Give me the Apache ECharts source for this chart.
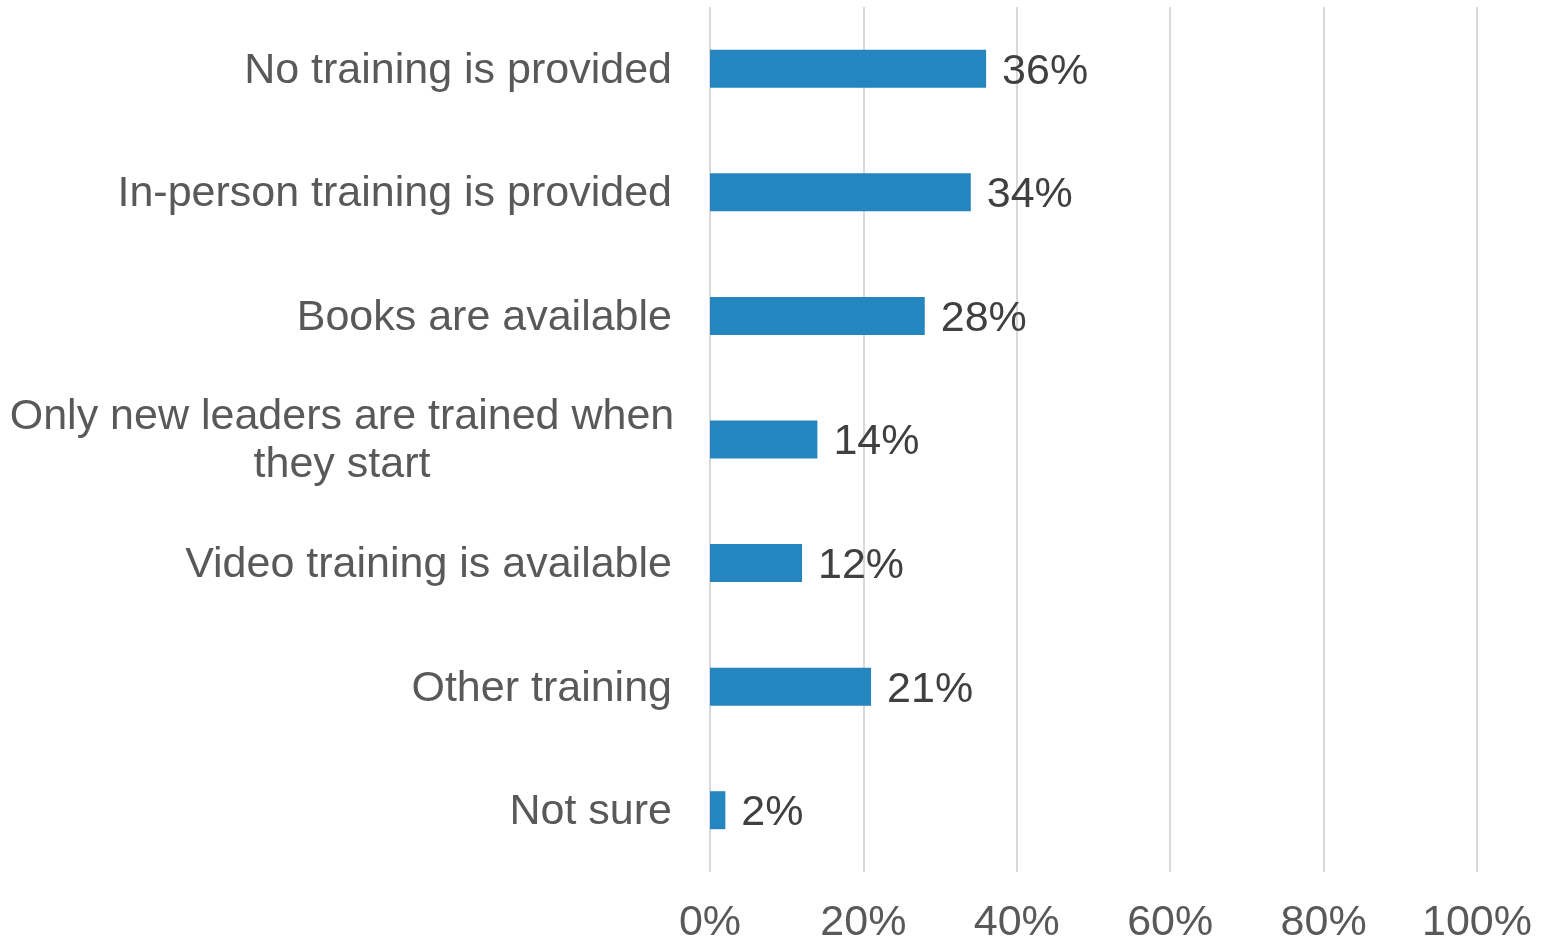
<!DOCTYPE html>
<html>
<head>
<meta charset="utf-8">
<script src="https://cdn.jsdelivr.net/npm/echarts@6/dist/echarts.min.js"></script>
<style>
  html, body { margin: 0; padding: 0; background: #fff; }
  #main { width: 1543px; height: 941px; }
</style>
</head>
<body>
<div id="main"></div>
<script>
// categories, top to bottom
const categories = [
  'No training is provided',
  'In-person training is provided',
  'Books are available',
  'Only new leaders are trained when\nthey start',
  'Video training is available',
  'Other training',
  'Not sure'
]
// share of respondents (%)
const values = [36, 34, 28, 14, 12, 21, 2]
const tickLabels = ['0%', '20%', '40%', '60%', '80%', '100%']

const myChart = echarts.init(document.getElementById('main'))
const option = {
  animation: false,
  grid: { left: 710, right: 66, top: 7, bottom: 69, outerBoundsMode: 'none' },
  xAxis: {
    type: 'value',
    min: 0,
    max: 100,
    interval: 20,
    axisLine: { show: false },
    axisTick: { show: false },
    splitLine: { lineStyle: { color: '#d9d9d9', width: 2 } },
    axisLabel: {
      margin: 30,
      fontFamily: 'Liberation Sans, Arial, sans-serif',
      fontSize: 43,
      color: '#595959',
      formatter: (v) => tickLabels[v / 20]
    }
  },
  yAxis: {
    type: 'category',
    inverse: true,
    data: categories,
    axisLine: { show: false },
    axisTick: { show: false },
    axisLabel: {
      margin: 38,
      fontFamily: 'Liberation Sans, Arial, sans-serif',
      fontSize: 43,
      color: '#595959',
      lineHeight: 48,
      padding: [4, 0, 0, 0],
      formatter: (v) => {
        if (v.indexOf('\n') < 0) return v
        // wrapped label: lines centred under each other
        return v.split('\n').map((s) => '{c|' + s + '}').join('\n')
      },
      rich: {
        c: {
          width: 660,
          align: 'center',
          fontFamily: 'Liberation Sans, Arial, sans-serif',
          fontSize: 43,
          color: '#595959',
          lineHeight: 48
        }
      }
    }
  },
  series: [{
    type: 'bar',
    data: values,
    barWidth: 38,
    itemStyle: { color: '#2585bf' },
    label: {
      show: true,
      position: 'right',
      distance: 16,
      offset: [0, 3],
      fontFamily: 'Liberation Sans, Arial, sans-serif',
      fontSize: 43,
      color: '#404040',
      formatter: '{c}%'
    }
  }]
}
myChart.setOption(option)
</script>
</body>
</html>
